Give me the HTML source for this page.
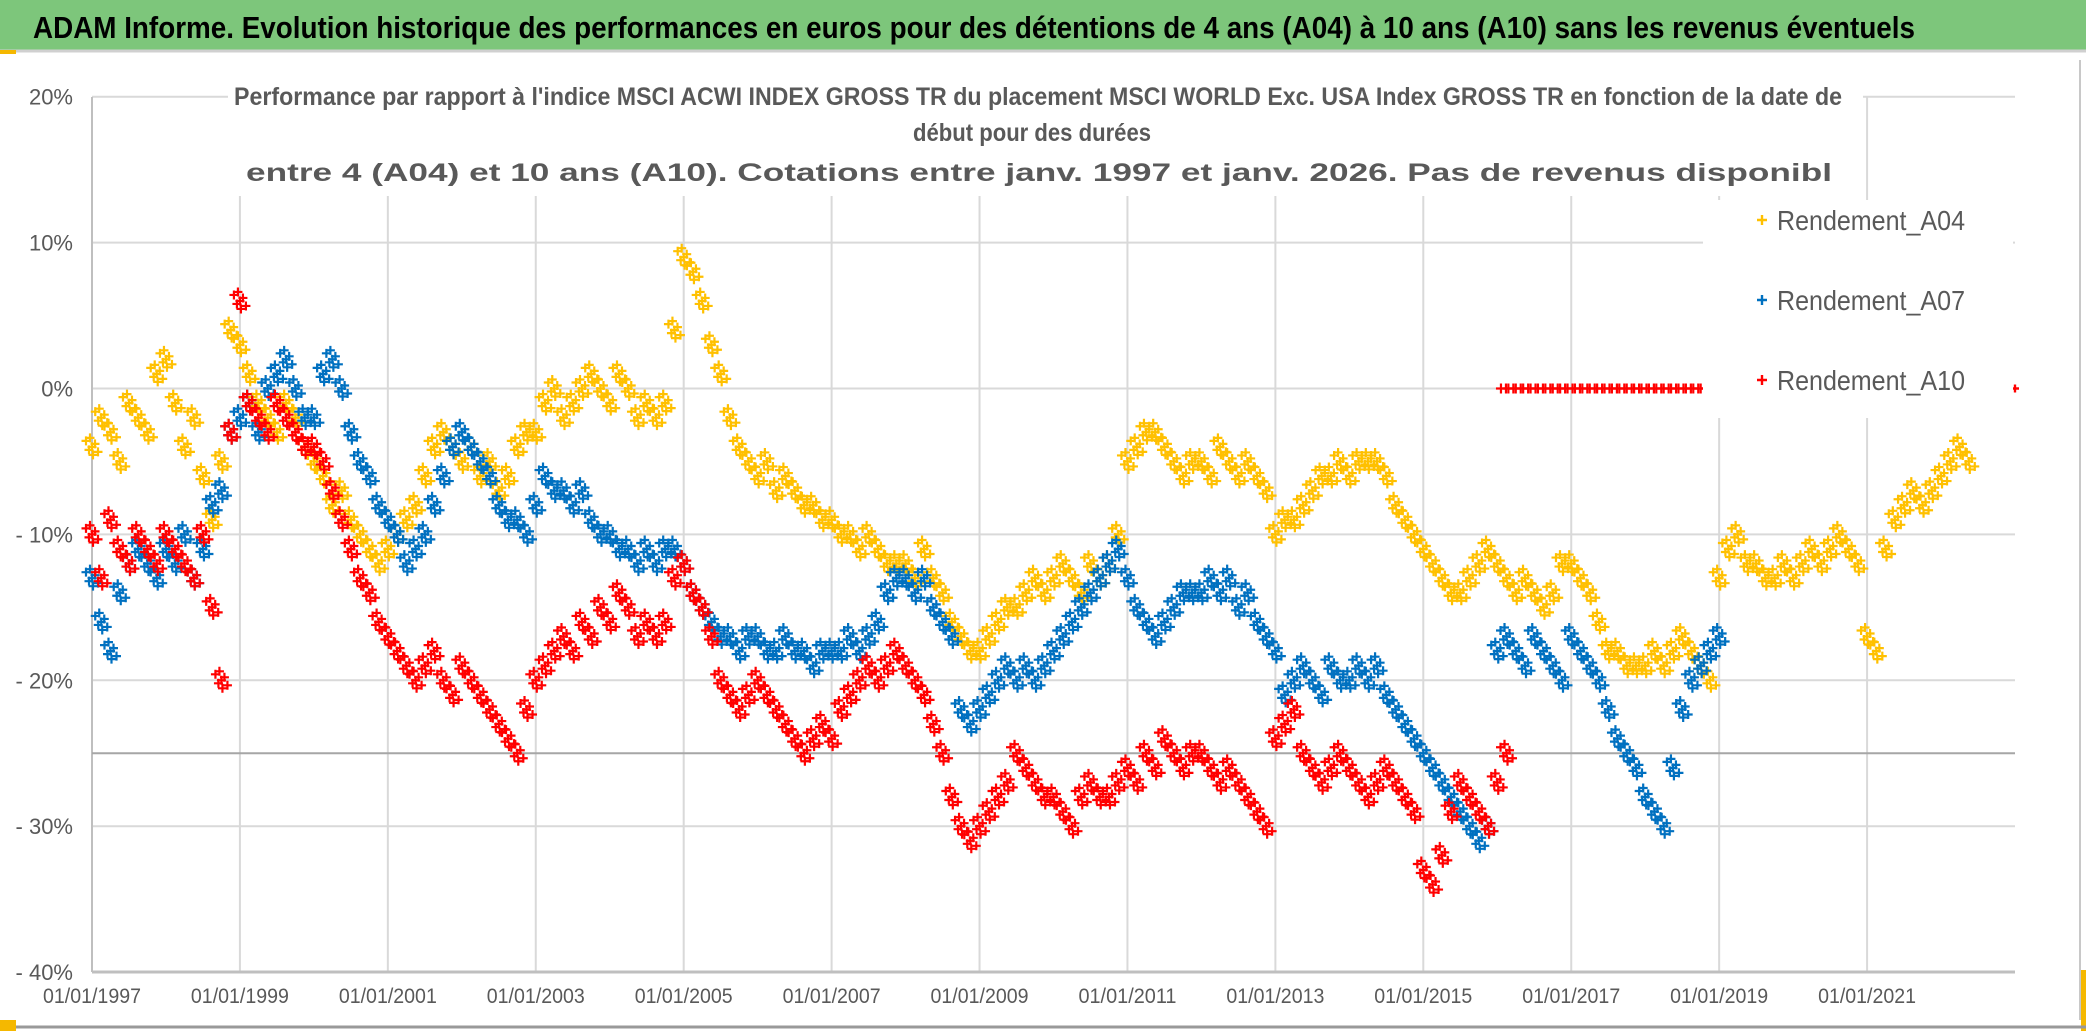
<!DOCTYPE html>
<html><head><meta charset="utf-8"><style>
html,body{margin:0;padding:0;background:#fff;}
svg{display:block;}
text{font-family:"Liberation Sans Narrow","Liberation Sans",sans-serif;}
</style></head><body>
<svg id="chart" width="2086" height="1031" viewBox="0 0 2086 1031" xmlns="http://www.w3.org/2000/svg">
<rect x="0" y="0" width="2086" height="1031" fill="#fff"/>
<rect x="0" y="0" width="2086" height="50" fill="#7dc67b"/>
<line x1="0" y1="51" x2="2086" y2="51" stroke="#d0d0d0" stroke-width="3"/>
<text x="33" y="38" font-size="31" font-weight="bold" fill="#000" textLength="1882" lengthAdjust="spacingAndGlyphs">ADAM Informe. Evolution historique des performances en euros pour des détentions de 4 ans (A04) à 10 ans (A10) sans les revenus éventuels</text>
<rect x="0" y="50" width="16" height="4" fill="#f5b800"/>
<rect x="2080" y="60" width="6" height="971" fill="#fff"/>
<line x1="2080" y1="60" x2="2080" y2="1020" stroke="#c8c8c8" stroke-width="2"/>
<rect x="2081" y="970" width="5" height="61" fill="#f5b800"/>
<line x1="0" y1="1027" x2="2086" y2="1027" stroke="#999" stroke-width="3"/>
<rect x="0" y="1020" width="16" height="11" fill="#f5b800"/>
<g id="grid"></g>
<g id="yticks"></g>
<g id="xticks"></g>
<g id="marks"></g>
<g id="overlay"></g>
</svg>
<script>
const startYear = 1997, step = 0.125;
const yTicks = [20,10,0,-10,-20,-30,-40];
const yTickLabels = ["20%","10%","0%","- 10%","- 20%","- 30%","- 40%"];
const xTickYears = [1997,1999,2001,2003,2005,2007,2009,2011,2013,2015,2017,2019,2021];
const xTickLabels = ["01/01/1997","01/01/1999","01/01/2001","01/01/2003","01/01/2005","01/01/2007","01/01/2009","01/01/2011","01/01/2013","01/01/2015","01/01/2017","01/01/2019","01/01/2021"];
const a04 = [-4,-2,-3,-5,-1,-2,-3,1, 2,-1,-4,-2,-6,-9,-5,4, 3,1,-1,-2,-3,-1,-2,-4, -5,-6,-8,-7,-9,-10,-11,-12,
 -11,-10,-9,-8,-6,-4,-3,-4, -5,-4,-6,-5,-7,-6,-4,-3, -3,-1,0,-2,-1,0,1,0, -1,1,0,-2,-1,-2,-1,4,
 9,8,6,3,1,-2,-4,-5, -6,-5,-7,-6,-7,-8,-8,-9, -9,-10,-10,-11,-10,-11,-12,-12, -12,-13,-11,-13,-14,-16,-17,-18,
 -18,-17,-16,-15,-15,-14,-13,-14, -13,-12,-13,-14,-12,-13,-12,-10, -5,-4,-3,-3,-4,-5,-6,-5, -5,-6,-4,-5,-6,-5,-6,-7,
 -10,-9,-9,-8,-7,-6,-6,-5, -6,-5,-5,-5,-6,-8,-9,-10, -11,-12,-13,-14,-14,-13,-12,-11, -12,-13,-14,-13,-14,-15,-14,-12,
 -12,-13,-14,-16,-18,-18,-19,-19, -19,-18,-19,-18,-17,-18,-19,-20, -13,-11,-10,-12,-12,-13,-13,-12, -13,-12,-11,-12,-11,-10,-11,-12,
 -17,-18,-11,-9,-8,-7,-8,-7, -6,-5,-4,-5];
const a07 = [-13,-16,-18,-14,-12,-11,-12,-13, -11,-12,-10,-13,-11,-8,-7,-3, -2,-1,-3,0,1,2,0,-2, -2,1,2,0,-3,-5,-6,-8,
 -9,-10,-12,-11,-10,-8,-6,-4, -3,-4,-5,-6,-8,-9,-9,-10, -8,-6,-7,-7,-8,-7,-9,-10, -10,-11,-11,-12,-11,-12,-11,-11,
 -12,-14,-15,-16,-17,-17,-18,-17, -17,-18,-18,-17,-18,-18,-19,-18, -18,-18,-17,-18,-17,-16,-14,-13, -13,-14,-13,-15,-16,-17,-22,-23,
 -22,-21,-20,-19,-20,-19,-20,-19, -18,-17,-16,-15,-14,-13,-12,-11, -13,-15,-16,-17,-16,-15,-14,-14, -14,-13,-14,-13,-15,-14,-16,-17,
 -18,-21,-20,-19,-20,-21,-19,-20, -20,-19,-20,-19,-21,-22,-23,-24, -25,-26,-27,-28,-29,-30,-31,-30, -18,-17,-18,-19,-17,-18,-19,-20,
 -17,-18,-19,-20,-22,-24,-25,-26, -28,-29,-30,-26,-22,-20,-19,-18, -17];
const a10 = [-10,-13,-9,-11,-12,-10,-11,-12, -10,-11,-12,-13,-10,-15,-20,-3, 6,-1,-2,-3,-1,-2,-3,-4, -4,-5,-7,-9,-11,-13,-14,-16,
 -17,-18,-19,-20,-19,-18,-20,-21, -19,-20,-21,-22,-23,-24,-25,-22, -20,-19,-18,-17,-18,-16,-17,-15, -16,-14,-15,-17,-16,-17,-16,-13,
 -12,-14,-15,-17,-20,-21,-22,-21, -20,-21,-22,-23,-24,-25,-24,-23, -24,-22,-21,-20,-19,-20,-19,-18, -19,-20,-21,-23,-25,-28,-30,-31,
 -30,-29,-28,-27,-25,-26,-27,-28, -28,-29,-30,-28,-27,-28,-28,-27, -26,-27,-25,-26,-24,-25,-26,-25, -25,-26,-27,-26,-27,-28,-29,-30,
 -24,-23,-22,-25,-26,-27,-26,-25, -26,-27,-28,-27,-26,-27,-28,-29, -33,-34,-32,-29,-27,-28,-29,-30, -27,-25];
const a10ZeroStart = 2016.05, a10ZeroStep = 0.1;
const a10Zero = [0,0,0,0,0,0,0,0,0,0,0,0,0,0,0,0,0,0,0,0,0,0,0,0,0,0,0,0];
const a10Tail = [[2023.0,0]];

const X0=92, X1=2015, Y0=972, Ytop=97;
const xS = yr => X0 + (yr-1997)/26*(X1-X0);
const yS = v => 388.5 - v*14.59;
const NS="http://www.w3.org/2000/svg";
function mk(tag, attrs, parent){const e=document.createElementNS(NS,tag);for(const k in attrs)e.setAttribute(k,attrs[k]);parent.appendChild(e);return e;}
const grid=document.getElementById('grid'), yt=document.getElementById('yticks'), xt=document.getElementById('xticks'), marks=document.getElementById('marks'), ov=document.getElementById('overlay');

yTicks.forEach((v,i)=>{
  if(v>-40){const l=mk('line',{x1:X0,x2:X1,y1:yS(v),y2:yS(v),stroke:'#d9d9d9','stroke-width':2},grid);
  
  }
  const t=mk('text',{x:73,y:yS(v)+8,'text-anchor':'end','font-size':22,fill:'#595959'},yt);
  t.textContent=yTickLabels[i];
  
  
});
xTickYears.forEach((yr,i)=>{
  if(i>0){const l=mk('line',{x1:xS(yr),x2:xS(yr),y1:Ytop,y2:Y0,stroke:'#d9d9d9','stroke-width':2},grid);
  
  }
  const t=mk('text',{x:xS(yr),y:1003,'text-anchor':'middle','font-size':21,fill:'#595959',textLength:98,lengthAdjust:'spacingAndGlyphs'},xt);
  t.textContent=xTickLabels[i];
  
  
});
let ax=mk('line',{x1:X0,x2:X0,y1:Ytop,y2:Y0,stroke:'#bfbfbf','stroke-width':2},grid);


ax=mk('line',{x1:X0,x2:X1,y1:Y0,y2:Y0,stroke:'#bfbfbf','stroke-width':3},grid);


ax=mk('line',{x1:X0,x2:X1,y1:yS(-25),y2:yS(-25),stroke:'#a6a6a6','stroke-width':2},grid);



const offs=[[-6,-6],[-3,3],[0,0],[3,-3],[6,5],[1,8],[-2,-9]];
function plus(x,y,color,name,arm){
  const p=mk('path',{d:`M${x-arm} ${y}H${x+arm}M${x} ${y-arm}V${y+arm}`,stroke:color,'stroke-width':2.2,fill:'none'},marks);
  
  
}
function series(vals,color,name){
  vals.forEach((v,i)=>{const x=xS(startYear+i*step), y=yS(v);
    offs.forEach(o=>plus(x+o[0],y+o[1],color,name,4.5));});
}
series(a04,'#ffc000','point-a04');
series(a07,'#0070c0','point-a07');
series(a10,'#ff0000','point-a10');
a10Zero.forEach((v,i)=>{const x=xS(a10ZeroStart+i*a10ZeroStep);plus(x,yS(v),'#ff0000','point-a10',5);plus(x+5,yS(v),'#ff0000','point-a10',5);});
a10Tail.forEach(p=>plus(xS(p[0]),yS(p[1]),'#ff0000','point-a10',4));

// title box
let r=mk('rect',{x:228,y:78,width:1635,height:118,fill:'#fff'},ov);


const titles=[["Performance par rapport à l'indice MSCI ACWI INDEX GROSS TR  du placement MSCI WORLD Exc. USA Index GROSS TR en fonction de la date de",1038,105,1608,25],
["début pour des durées",1032,141,238,25],
["entre 4 (A04) et 10 ans (A10). Cotations entre janv. 1997 et janv. 2026. Pas de revenus disponibl",1039,181,1586,25]];
titles.forEach(t=>{const e=mk('text',{x:t[1],y:t[2],'text-anchor':'middle','font-size':t[4],'font-weight':'bold',fill:'#595959',textLength:t[3],lengthAdjust:'spacingAndGlyphs'},ov);
  e.textContent=t[0];
  
  });
// legend
r=mk('rect',{x:1703,y:200,width:310,height:218,fill:'#fff'},ov);


const legNames=["Rendement_A04","Rendement_A07","Rendement_A10"], legCols=['#ffc000','#0070c0','#ff0000'], legY=[220,300,380];
legNames.forEach((n,i)=>{
  const g=mk('g',{},ov);
  
  
  mk('path',{d:`M1757 ${legY[i]}H1767M1762 ${legY[i]-5}V${legY[i]+5}`,stroke:legCols[i],'stroke-width':2.4},g);
  const t=mk('text',{x:1777,y:legY[i]+10,'font-size':28,fill:'#595959',textLength:188,lengthAdjust:'spacingAndGlyphs'},g);
  t.textContent=n;
});
plus(xS(2023.0),yS(0),'#ff0000','point-a10',4);
</script>
</body></html>
